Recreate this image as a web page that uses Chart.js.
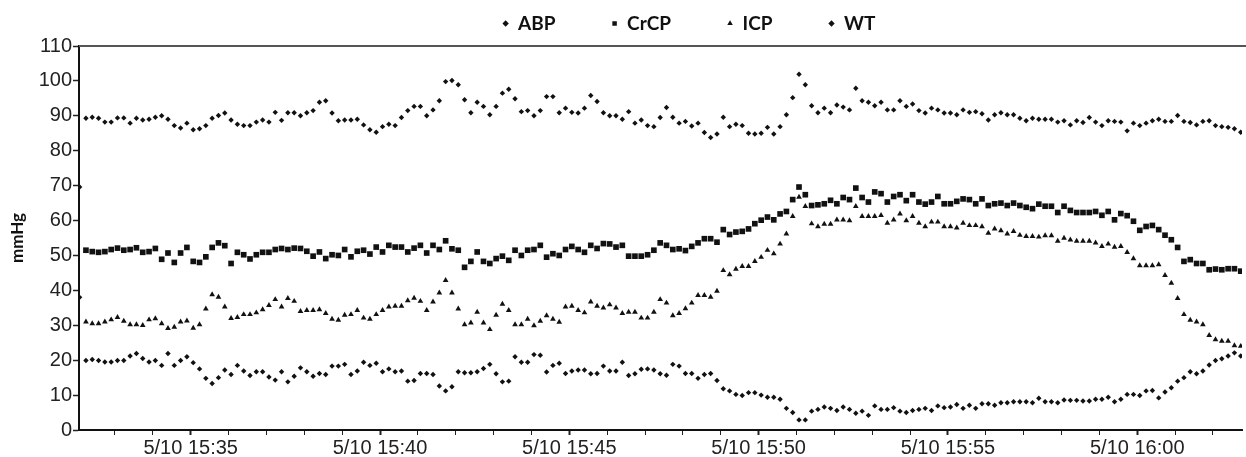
<!DOCTYPE html>
<html>
<head>
<meta charset="utf-8">
<script src="https://cdn.jsdelivr.net/npm/chart.js@4/dist/chart.umd.min.js"></script>
<style>
  html, body { margin: 0; padding: 0; background: #fff; }
  #wrap { width: 1246px; height: 457px; }
</style>
</head>
<body>
<div id="wrap"><canvas id="chart-pressure" width="1246" height="457"></canvas></div>
<script>
// ── Sampling: one reading every 10 s, first one at 15:32:04 ──────
const DATE_LABEL     = '5/10';
const FIRST_SAMPLE   = '15:32:04';
const SAMPLE_SECONDS = 10;
const AXIS_START     = '15:32:03';
const AXIS_END       = '16:02:46';
const TICK_LABELS    = ['15:35', '15:40', '15:45', '15:50', '15:55', '16:00'];
const Y_TICKS        = [0, 10, 20, 30, 40, 50, 60, 70, 80, 90, 100, 110];

const abpValues = [
    69.6,
    89.3, 89.6, 89.3, 88.2, 88.2, 89.4, 89.4, 87.9, 89.3, 88.8,
    89.0, 89.6, 90.0, 89.0, 87.2, 86.5, 87.9, 86.0, 86.3, 87.2,
    89.3, 90.1, 90.8, 88.8, 87.6, 87.2, 87.2, 88.2, 88.8, 88.2,
    91.0, 88.7, 90.9, 90.9, 90.0, 90.9, 91.5, 93.9, 94.3, 90.8,
    88.6, 88.8, 88.8, 89.0, 87.4, 86.0, 85.3, 86.9, 87.6, 87.2,
    89.5, 91.5, 92.7, 92.7, 90.0, 91.7, 94.3, 99.8, 100.1, 98.9,
    94.6, 90.9, 93.9, 92.7, 90.3, 92.7, 96.5, 97.6, 94.9, 91.2,
    91.5, 90.0, 91.5, 95.5, 95.5, 90.9, 92.2, 91.0, 90.8, 92.2,
    95.8, 94.1, 90.9, 90.0, 90.0, 89.0, 91.2, 87.9, 88.8, 87.2,
    86.9, 89.5, 92.4, 89.6, 87.9, 88.4, 87.1, 87.9, 85.2, 83.8,
    84.8, 89.6, 86.9, 87.6, 87.2, 85.0, 84.8, 85.0, 86.7, 84.8,
    86.9, 90.3, 95.2, 101.9, 98.9, 92.9, 90.9, 92.2, 90.9, 93.1,
    92.5, 91.7, 97.9, 94.3, 93.9, 92.9, 93.9, 91.7, 91.7, 94.3,
    92.7, 93.4, 91.5, 90.8, 92.2, 91.7, 90.8, 90.8, 90.3, 91.7,
    91.0, 91.2, 90.6, 88.8, 90.3, 90.9, 90.3, 90.3, 89.3, 88.6,
    89.3, 89.0, 89.0, 89.0, 88.2, 88.6, 87.4, 88.6, 88.1, 89.5,
    88.2, 87.2, 88.6, 88.4, 88.2, 85.7, 87.9, 87.2, 87.9, 88.6,
    89.0, 88.4, 88.4, 90.1, 88.4, 88.1, 87.4, 88.4, 88.6, 87.2,
    86.9, 86.7, 86.3, 85.3
];

const crcpValues = [
    null,
    51.5, 51.1, 50.9, 51.1, 51.7, 52.1, 51.5, 51.7, 52.2, 50.9,
    51.1, 52.0, 48.9, 50.7, 48.0, 50.7, 52.3, 48.3, 48.0, 49.6,
    52.3, 53.6, 52.8, 47.7, 50.9, 50.2, 49.0, 50.2, 50.9, 50.9,
    51.7, 52.0, 51.7, 52.1, 52.0, 51.2, 49.8, 51.0, 49.1, 50.2,
    50.0, 51.7, 49.6, 51.2, 51.5, 50.4, 52.4, 51.0, 52.9, 52.4,
    52.4, 51.0, 52.1, 52.9, 50.7, 52.9, 51.7, 54.2, 51.9, 51.5,
    46.6, 48.3, 51.0, 48.3, 47.7, 49.1, 49.8, 48.6, 51.5, 50.0,
    51.5, 51.7, 52.9, 49.5, 50.5, 50.0, 51.7, 52.6, 51.7, 50.9,
    52.9, 52.0, 53.4, 53.3, 52.4, 52.9, 49.8, 49.8, 49.8, 50.2,
    51.5, 53.6, 52.9, 51.7, 51.9, 51.4, 52.6, 53.6, 54.8, 54.8,
    53.8, 57.4, 56.0, 56.7, 56.9, 57.6, 59.1, 60.1, 61.0, 60.2,
    61.9, 62.6, 66.0, 69.6, 67.4, 64.3, 64.5, 64.8, 65.8, 64.8,
    66.6, 66.0, 69.3, 66.6, 65.3, 68.2, 67.7, 65.3, 66.9, 67.4,
    65.7, 67.4, 65.3, 64.7, 65.3, 66.9, 64.8, 64.8, 65.5, 66.2,
    66.0, 64.8, 66.2, 64.3, 64.8, 65.0, 64.3, 65.0, 64.3, 63.8,
    63.4, 64.7, 64.1, 64.1, 62.3, 64.1, 62.9, 62.3, 62.3, 62.3,
    62.6, 61.5, 62.6, 60.2, 62.0, 61.4, 59.8, 57.2, 58.3, 58.6,
    57.4, 55.8, 54.5, 52.3, 48.3, 48.8, 47.7, 47.7, 45.9, 46.1,
    45.9, 46.2, 46.2, 45.5
];

const icpValues = [
    null,
    31.0, 30.5, 30.5, 31.0, 31.6, 32.3, 31.2, 30.2, 30.2, 30.0,
    31.6, 31.9, 30.5, 29.1, 29.5, 31.0, 31.3, 29.2, 30.2, 34.7,
    38.8, 38.1, 35.3, 32.0, 32.3, 33.1, 33.1, 33.6, 34.5, 35.7,
    37.4, 35.3, 37.7, 36.9, 34.0, 34.3, 34.3, 34.5, 33.4, 31.8,
    31.5, 32.9, 33.1, 34.3, 32.1, 31.8, 33.1, 34.3, 35.3, 35.5,
    35.5, 37.1, 37.8, 36.9, 34.3, 36.7, 39.3, 42.9, 39.3, 34.7,
    30.2, 30.7, 33.8, 30.7, 28.8, 32.9, 36.1, 34.3, 30.2, 30.2,
    31.8, 29.9, 31.2, 32.8, 31.8, 30.9, 35.3, 35.5, 34.3, 33.6,
    36.7, 35.5, 35.0, 35.9, 35.0, 33.4, 33.8, 33.8, 32.1, 32.1,
    33.8, 37.4, 36.4, 32.8, 33.4, 34.8, 36.4, 38.6, 38.6, 38.1,
    39.8, 45.7, 44.5, 46.1, 46.9, 46.9, 48.3, 49.5, 51.5, 50.5,
    53.3, 56.2, 61.2, 66.7, 64.1, 59.1, 58.3, 59.0, 59.0, 60.2,
    60.2, 60.0, 64.1, 61.2, 61.2, 61.2, 61.5, 59.3, 60.2, 61.9,
    60.0, 61.2, 59.3, 58.3, 59.6, 59.6, 58.3, 58.3, 57.9, 59.3,
    58.6, 58.6, 58.3, 56.4, 57.6, 57.1, 56.2, 56.9, 55.8, 55.5,
    55.5, 55.3, 55.7, 55.7, 54.1, 55.0, 54.5, 54.1, 54.1, 54.1,
    53.6, 52.6, 53.3, 52.4, 52.6, 50.9, 49.1, 47.1, 47.1, 47.1,
    47.4, 44.3, 42.1, 37.7, 33.1, 31.5, 31.0, 30.2, 27.1, 25.9,
    25.5, 25.5, 24.2, 24.0
];

const wtValues = [
    38.0,
    19.9, 20.2, 19.9, 19.5, 19.5, 19.9, 19.9, 21.2, 21.9, 20.5,
    19.5, 19.9, 18.5, 21.9, 18.5, 19.9, 21.0, 19.3, 17.5, 14.8,
    13.3, 15.0, 17.2, 15.9, 18.5, 16.9, 15.6, 16.7, 16.7, 15.2,
    14.3, 16.7, 13.8, 15.4, 17.8, 16.7, 15.4, 16.2, 15.9, 18.3,
    18.3, 18.8, 15.9, 16.9, 19.4, 18.5, 19.1, 16.7, 17.5, 16.7,
    16.9, 14.0, 14.2, 16.2, 16.2, 15.9, 12.6, 11.2, 12.4, 16.7,
    16.4, 16.4, 16.7, 17.6, 18.8, 16.1, 13.8, 14.0, 21.0, 19.4,
    19.4, 21.6, 21.4, 16.6, 18.5, 19.1, 16.2, 16.9, 17.2, 17.2,
    16.1, 16.2, 18.3, 16.9, 16.9, 19.4, 15.6, 16.1, 17.4, 17.5,
    17.2, 16.1, 15.7, 18.8, 18.3, 16.2, 16.2, 14.8, 15.9, 16.2,
    14.2, 11.8, 11.2, 10.2, 9.9, 10.7, 10.7, 10.0, 9.4, 9.4,
    8.8, 6.2, 5.0, 2.9, 2.9, 5.4, 5.9, 6.6, 6.2, 5.6,
    6.6, 5.9, 4.8, 5.4, 4.2, 6.9, 5.9, 5.9, 6.4, 5.4,
    5.0, 5.6, 5.9, 6.2, 5.6, 6.9, 6.4, 6.6, 7.3, 6.2,
    7.1, 6.2, 7.5, 7.5, 7.1, 7.8, 7.8, 8.1, 8.1, 8.1,
    7.8, 9.1, 8.1, 8.1, 7.8, 8.6, 8.5, 8.5, 8.3, 8.3,
    8.8, 8.8, 9.4, 8.1, 8.8, 10.2, 10.2, 9.9, 11.2, 11.3,
    9.2, 10.9, 12.1, 14.0, 15.0, 16.7, 16.1, 16.9, 18.6, 19.9,
    20.4, 21.2, 22.1, 21.2
];

// ── Helpers: clock strings <-> seconds of the day ────────────────
const toSec = (hms) => {
    const [h, m, s = 0] = hms.split(':').map(Number);
    return h * 3600 + m * 60 + s;
};
const clock = (sec) => {
    const h = Math.floor(sec / 3600);
    const m = Math.floor((sec % 3600) / 60);
    return `${h}:${String(m).padStart(2, '0')}`;
};

const t0 = toSec(FIRST_SAMPLE);
const toPoints = (values) => values.map((v, i) => ({ x: t0 + i * SAMPLE_SECONDS, y: v }));

const majorTicks = TICK_LABELS.map(toSec);
const xMin = toSec(AXIS_START);
const xMax = toSec(AXIS_END);

const TICK_FONT   = { family: "'Liberation Sans', Arial, sans-serif", size: 20, lineHeight: 1.2 };
const LEGEND_FONT = { family: "Lato, 'Liberation Sans', sans-serif", size: 19, weight: 'bold' };
const TITLE_FONT  = { family: "Lato, 'Liberation Sans', sans-serif", size: 17, weight: 'bold' };
const INK = '#111';

// grey rule along the top of the plot
const topRule = {
    id: 'topRule',
    beforeDatasetsDraw(chart) {
        const { ctx, chartArea: a } = chart;
        ctx.save();
        ctx.strokeStyle = '#555';
        ctx.lineWidth = 2;
        ctx.beginPath();
        ctx.moveTo(a.left, a.top);
        ctx.lineTo(chart.width, a.top);
        ctx.stroke();
        ctx.restore();
    }
};

// legend sits right of centre and tight to the top edge
// (only the top moves up, so the legend's clip box still covers the text)
const legendNudge = {
    id: 'legendNudge',
    afterLayout(chart) {
        const lg = chart.legend;
        if (!lg) return;
        lg.left += 66;
        lg.right += 66;
        lg.top -= 42;
    }
};

const series = (label, values, pointStyle, radius) => ({
    label,
    data: toPoints(values),
    pointStyle,
    pointRadius: radius,
    pointHoverRadius: radius,
    backgroundColor: INK,
    borderColor: INK,
    borderWidth: 0,
    showLine: false,
});

new Chart(document.getElementById('chart-pressure'), {
    type: 'scatter',
    data: {
        datasets: [
            series('ABP',  abpValues,  'rectRot',  2.7),
            series('CrCP', crcpValues, 'rect',     4),
            series('ICP',  icpValues,  'triangle', 3.3),
            series('WT',   wtValues,   'rectRot',  2.7),
        ]
    },
    plugins: [topRule, legendNudge],
    options: {
        responsive: false,
        animation: false,
        layout: { padding: 0 },
        plugins: {
            tooltip: { enabled: false },
            legend: {
                position: 'top',
                maxHeight: 46,
                labels: {
                    usePointStyle: true,
                    boxWidth: 6,
                    boxHeight: 4.5,
                    padding: 56,
                    color: INK,
                    font: LEGEND_FONT,
                }
            }
        },
        scales: {
            x: {
                type: 'linear',
                min: xMin,
                max: xMax,
                afterBuildTicks: (scale) => {
                    const ticks = [];
                    for (let v = Math.ceil(xMin / 60) * 60; v <= xMax; v += 60) ticks.push({ value: v });
                    scale.ticks = ticks;
                },
                afterFit: (scale) => { scale.height = 27; },
                ticks: {
                    autoSkip: false,
                    maxRotation: 0,
                    minRotation: 0,
                    padding: 1,
                    color: '#222',
                    font: TICK_FONT,
                    callback: (v) => majorTicks.includes(v) ? `${DATE_LABEL} ${clock(v)}` : '',
                },
                grid: {
                    drawOnChartArea: false,
                    tickLength: 5,
                    tickColor: '#222',
                    tickWidth: (ctx) => majorTicks.includes(ctx.tick?.value) ? 2 : 1,
                },
                border: { color: INK, width: 2 },
            },
            y: {
                min: Y_TICKS[0],
                max: Y_TICKS[Y_TICKS.length - 1],
                afterBuildTicks: (scale) => { scale.ticks = Y_TICKS.map(v => ({ value: v })); },
                afterFit: (scale) => { scale.width = 79; },
                ticks: {
                    padding: 1,
                    color: '#222',
                    font: TICK_FONT,
                },
                grid: {
                    drawOnChartArea: false,
                    tickLength: 6,
                    tickColor: '#222',
                    tickWidth: 1.5,
                },
                border: { color: INK, width: 2 },
                title: {
                    display: true,
                    text: 'mmHg',
                    color: INK,
                    font: TITLE_FONT,
                    padding: { top: 7, bottom: 0 },
                }
            }
        }
    }
});
</script>
</body>
</html>
